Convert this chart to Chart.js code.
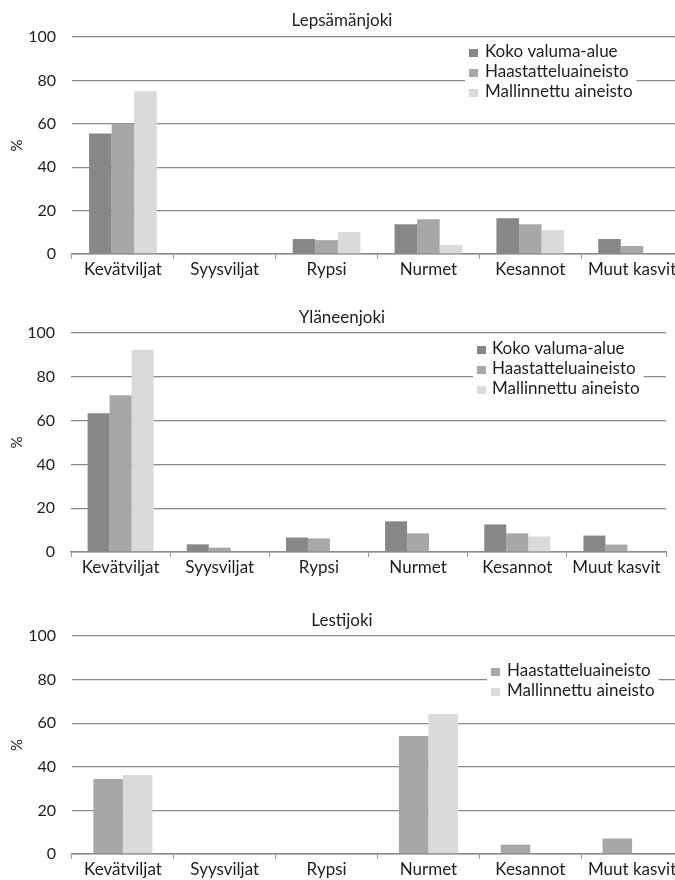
<!DOCTYPE html>
<html>
<head>
<meta charset="utf-8">
<script src="https://cdn.jsdelivr.net/npm/chart.js@4"></script>
<style>
  html, body { margin: 0; padding: 0; background: #fff; width: 675px; height: 880px; overflow: hidden; position: relative; }
  canvas { position: absolute; left: 0; }
</style>
</head>
<body>
<canvas id="c1" width="690" height="290" style="top:0px"></canvas>
<canvas id="c2" width="675" height="290" style="top:296px"></canvas>
<canvas id="c3" width="690" height="290" style="top:598px"></canvas>
<script>
const categories = ["Kevätviljat", "Syysviljat", "Rypsi", "Nurmet", "Kesannot", "Muut kasvit"];
const seriesNames = ["Koko valuma-alue", "Haastatteluaineisto", "Mallinnettu aineisto"];
const yTicks = [0, 20, 40, 60, 80, 100];

// Lepsämänjoki
const lepsKoko  = [55.5, 0, 6.9, 13.7, 16.5, 6.9];
const lepsHaast = [60.0, 0, 6.4, 16.0, 13.7, 3.7];
const lepsMall  = [75.0, 0, 10.1, 4.1, 11.0, 0];

// Yläneenjoki
const ylaKoko  = [63.3, 3.5, 6.6, 14.0, 12.6, 7.5];
const ylaHaast = [71.6, 2.0, 6.2, 8.5, 8.5, 3.4];
const ylaMall  = [92.3, 0, 0, 0.3, 7.1, 0];

// Lestijoki
const lestiHaast = [34.4, 0, 0.3, 54.1, 4.3, 7.1];
const lestiMall  = [36.2, 0, 0, 64.2, 0, 0];

const COL_DARK = '#878788';
const COL_MID = '#a6a7a9';
const COL_LIGHT = '#d9dadc';
const FONT = 'Lato, "Open Sans", sans-serif';
const TEXT = '#1e1e1e';
const GRID = '#8a8a8a';

const overlayPlugin = {
  id: 'overlay',
  afterDraw(chart, args, opts) {
    const ctx = chart.ctx;
    ctx.save();
    // title
    ctx.font = '17px ' + FONT;
    ctx.fillStyle = TEXT;
    ctx.textAlign = 'center';
    ctx.textBaseline = 'middle';
    ctx.fillText(opts.title, opts.titleX, opts.titleY);
    // legend
    const ds = chart.data.datasets;
    ctx.font = '17px ' + FONT;
    let maxW = 0;
    ds.forEach(d => { maxW = Math.max(maxW, ctx.measureText(d.label).width); });
    const x0 = opts.legX, y0 = opts.legY, step = 20, sq = 8;
    ctx.fillStyle = '#ffffff';
    ctx.fillRect(x0 - 4, y0 - 10, (opts.textX - x0) + maxW + 8, step * (ds.length - 1) + 20);
    ds.forEach((d, i) => {
      const cy = y0 + i * step;
      ctx.fillStyle = d.backgroundColor;
      ctx.fillRect(x0, cy - sq / 2 + 1, sq + 1, sq);
      ctx.fillStyle = TEXT;
      ctx.textAlign = 'left';
      ctx.textBaseline = 'middle';
      ctx.fillText(d.label, opts.textX, cy);
    });
    ctx.restore();
  }
};

function makeChart(id, datasets, cfg) {
  return new Chart(document.getElementById(id), {
    type: 'bar',
    data: { labels: categories, datasets: datasets },
    plugins: [overlayPlugin],
    options: {
      responsive: false,
      animation: false,
      devicePixelRatio: 1,
      layout: { padding: { top: cfg.padTop, bottom: cfg.padBottom, left: 0, right: cfg.padRight } },
      datasets: { bar: { categoryPercentage: cfg.catPct, barPercentage: 1, borderWidth: 0 } },
      plugins: {
        legend: { display: false },
        title: { display: false },
        tooltip: { enabled: false },
        overlay: cfg.overlay
      },
      scales: {
        x: {
          offset: true,
          grid: { display: true, drawOnChartArea: false, drawTicks: true, tickLength: 5, offset: true, color: '#9a9a9a', lineWidth: 1 },
          border: { display: true, color: GRID, width: 1.5 },
          ticks: { color: TEXT, font: { family: FONT, size: 17 }, padding: 0, maxRotation: 0, minRotation: 0, autoSkip: false },
          afterFit(s) { s.height = cfg.xH; }
        },
        y: {
          min: 0, max: 100,
          afterBuildTicks(s) { s.ticks = yTicks.map(v => ({ value: v })); },
          grid: { color: GRID, lineWidth: 1.3, drawTicks: false },
          border: { display: false },
          ticks: { color: TEXT, font: { family: FONT, size: 16 }, padding: 16 },
          title: { display: true, text: '%', color: TEXT, font: { family: FONT, size: 15 }, padding: { top: 8, bottom: 0 } },
          afterFit(s) { s.width = cfg.yW; }
        }
      }
    }
  });
}

makeChart('c1', [
  { label: seriesNames[0], data: lepsKoko, backgroundColor: COL_DARK },
  { label: seriesNames[1], data: lepsHaast, backgroundColor: COL_MID },
  { label: seriesNames[2], data: lepsMall, backgroundColor: COL_LIGHT }
], { padTop: 37, padBottom: 6, padRight: 7, xH: 30, yW: 72, catPct: 0.665,
     overlay: { title: 'Lepsämänjoki', titleX: 342, titleY: 21, legX: 469, legY: 52, textX: 485 } });

makeChart('c2', [
  { label: seriesNames[0], data: ylaKoko, backgroundColor: COL_DARK },
  { label: seriesNames[1], data: ylaHaast, backgroundColor: COL_MID },
  { label: seriesNames[2], data: ylaMall, backgroundColor: COL_LIGHT }
], { padTop: 37, padBottom: 4, padRight: 9, xH: 30, yW: 71, catPct: 0.665,
     overlay: { title: 'Yläneenjoki', titleX: 342, titleY: 22, legX: 477, legY: 53, textX: 492 } });

makeChart('c3', [
  { label: seriesNames[1], data: lestiHaast, backgroundColor: COL_MID },
  { label: seriesNames[2], data: lestiMall, backgroundColor: COL_LIGHT }
], { padTop: 38, padBottom: 4, padRight: 7, xH: 30, yW: 72, catPct: 0.58,
     overlay: { title: 'Lestijoki', titleX: 342, titleY: 23, legX: 491, legY: 73, textX: 507 } });
</script>
</body>
</html>
